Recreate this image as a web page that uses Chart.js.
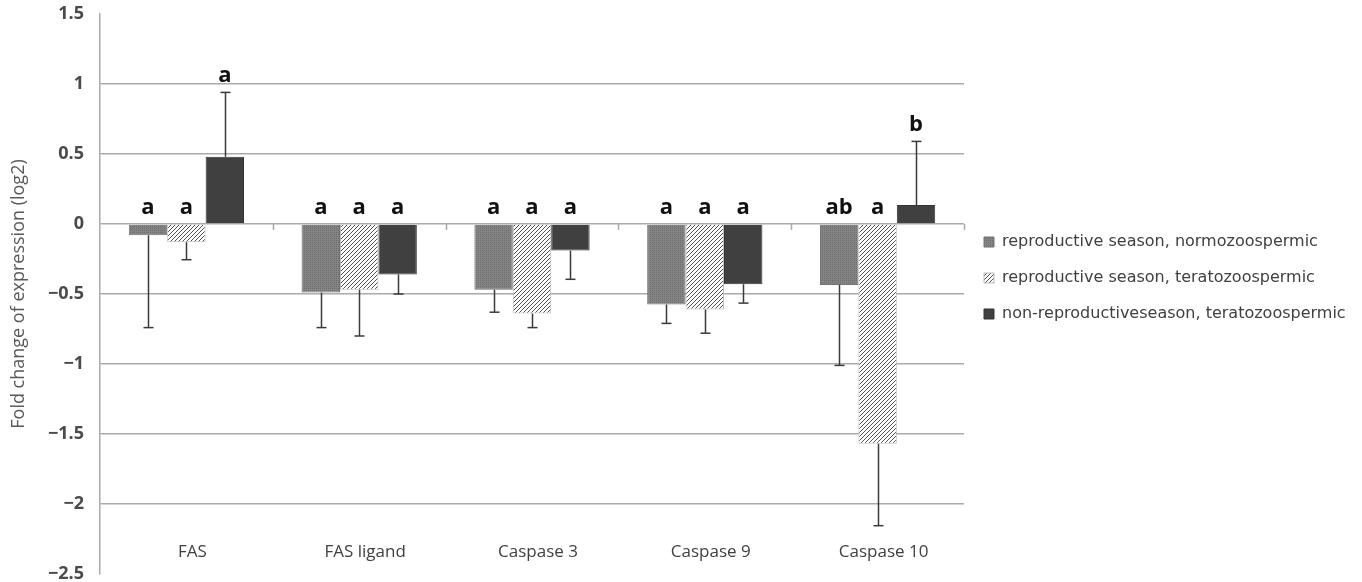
<!DOCTYPE html>
<html><head><meta charset="utf-8">
<script src="https://cdn.jsdelivr.net/npm/chart.js@4"></script>
<style>html,body{margin:0;padding:0;background:#fff;} #wrap{width:1362px;height:582px;}</style>
</head><body><div id="wrap"><canvas id="c" width="1362" height="582"></canvas></div>
<script>
const categories = ['FAS', 'FAS ligand', 'Caspase 3', 'Caspase 9', 'Caspase 10'];
const seriesNames = ['reproductive season, normozoospermic', 'reproductive season, teratozoospermic', 'non-reproductiveseason, teratozoospermic'];
const normoValues = [-0.08, -0.49, -0.47, -0.575, -0.435];
const normoErrors = [0.66, 0.25, 0.16, 0.135, 0.575];
const teratoValues = [-0.13, -0.47, -0.64, -0.61, -1.57];
const teratoErrors = [0.125, 0.33, 0.10, 0.17, 0.585];
const nonReproValues = [0.48, -0.36, -0.19, -0.43, 0.135];
const nonReproErrors = [0.46, 0.14, 0.205, 0.135, 0.455];
const normoLetters = ['a', 'a', 'a', 'a', 'ab'];
const teratoLetters = ['a', 'a', 'a', 'a', 'a'];
const nonReproLetters = ['a', 'a', 'a', 'a', 'b'];
const yTickValues = [-2.5, -2, -1.5, -1, -0.5, 0, 0.5, 1, 1.5];
const yTickLabels = ['\u22122.5', '\u22122', '\u22121.5', '\u22121', '\u22120.5', '0', '0.5', '1', '1.5'];

function dotPattern() {
  const c = document.createElement('canvas'); c.width = 4; c.height = 4;
  const g = c.getContext('2d');
  g.fillStyle = '#848484'; g.fillRect(0, 0, 4, 4);
  g.fillStyle = '#6e6e6e';
  g.fillRect(0, 0, 1, 1); g.fillRect(2, 2, 1, 1); g.fillRect(2, 0, 1, 1); g.fillRect(0, 2, 1, 1);
  return document.createElement('canvas').getContext('2d').createPattern(c, 'repeat');
}
function hatchPattern() {
  const p = 4;
  const c = document.createElement('canvas'); c.width = p; c.height = p;
  const g = c.getContext('2d');
  g.fillStyle = '#ffffff'; g.fillRect(0, 0, p, p);
  g.strokeStyle = '#505050'; g.lineWidth = 1.0;
  g.beginPath();
  g.moveTo(-1, p + 1); g.lineTo(p + 1, -1);
  g.moveTo(-1, 1); g.lineTo(1, -1);
  g.moveTo(p - 1, p + 1); g.lineTo(p + 1, p - 1);
  g.stroke();
  return document.createElement('canvas').getContext('2d').createPattern(c, 'repeat');
}

const errorSets = [normoErrors, teratoErrors, nonReproErrors];
const letterSets = [normoLetters, teratoLetters, nonReproLetters];

const extrasPlugin = {
  id: 'extras',
  beforeUpdate(chart) {
    const lg = chart.legend;
    if (lg && !lg._patched) {
      const origFit = lg.fit;
      lg.fit = function () { origFit.call(this); this.width = 398; };
      const origDraw = lg.draw;
      lg.draw = function () {
        const ctx = this.ctx; ctx.save(); ctx.translate(0, -16);
        origDraw.call(this); ctx.restore();
      };
      lg._patched = true;
    }
  },
  afterDatasetsDraw(chart) {
    const ctx = chart.ctx;
    const ys = chart.scales.y, xs = chart.scales.x;
    const y0 = ys.getPixelForValue(0);
    const step = xs.getPixelForValue(1) - xs.getPixelForValue(0);
    ctx.save();
    ctx.strokeStyle = '#aaaaaa'; ctx.lineWidth = 1.5;
    for (let i = 0; i < categories.length; i++) {
      const xb = Math.round(xs.getPixelForValue(i) + step / 2) + 0.5;
      ctx.beginPath(); ctx.moveTo(xb, y0); ctx.lineTo(xb, y0 + 6); ctx.stroke();
    }
    chart.data.datasets.forEach((ds, di) => {
      const meta = chart.getDatasetMeta(di);
      meta.data.forEach((bar, i) => {
        const v = ds.data[i];
        const e = errorSets[di][i];
        const end = v >= 0 ? v + e : v - e;
        const yv = ys.getPixelForValue(v);
        const ye = ys.getPixelForValue(end);
        const x = Math.round(bar.x) + 0.5;
        ctx.strokeStyle = '#3a3a3a'; ctx.lineWidth = 1.5;
        ctx.beginPath(); ctx.moveTo(x, yv); ctx.lineTo(x, ye); ctx.stroke();
        ctx.beginPath(); ctx.moveTo(x - 5, ye); ctx.lineTo(x + 5, ye); ctx.stroke();
        const top = Math.min(y0, ye);
        ctx.fillStyle = '#111111';
        ctx.font = 'bold 22px "Open Sans", sans-serif';
        ctx.textAlign = 'center'; ctx.textBaseline = 'alphabetic';
        ctx.fillText(letterSets[di][i], bar.x, top - 10);
      });
    });
    ctx.fillStyle = '#404040';
    ctx.font = '17px "Open Sans", sans-serif';
    ctx.textAlign = 'center'; ctx.textBaseline = 'middle';
    const yl = ys.getPixelForValue(-2.5) - 22;
    categories.forEach((c, i) => ctx.fillText(c, xs.getPixelForValue(i) + 6, yl));
    ctx.restore();
  }
};

new Chart(document.getElementById('c'), {
  type: 'bar',
  data: {
    labels: categories,
    datasets: [
      { label: seriesNames[0], data: normoValues, backgroundColor: dotPattern(), borderColor: '#707070', borderWidth: 1 },
      { label: seriesNames[1], data: teratoValues, backgroundColor: hatchPattern(), borderColor: '#bdbdbd', borderWidth: 1 },
      { label: seriesNames[2], data: nonReproValues, backgroundColor: '#404040', borderColor: '#333333', borderWidth: 1 }
    ]
  },
  options: {
    responsive: false, animation: false, devicePixelRatio: 1,
    layout: { padding: { top: 14, bottom: 8, left: 0, right: 0 } },
    datasets: { bar: { categoryPercentage: 0.667, barPercentage: 1.0 } },
    scales: {
      x: { display: false },
      y: {
        min: -2.5, max: 1.5,
        afterFit(s) { s.width = 100; s.paddingTop = 0; s.paddingBottom = 0; },
        afterBuildTicks(s) { s.ticks = yTickValues.map(v => ({ value: v })); },
        ticks: {
          padding: 16, color: '#4a4a4a',
          font: { family: '"Open Sans", sans-serif', size: 18, weight: 'bold' },
          callback: (v) => yTickLabels[yTickValues.indexOf(v)]
        },
        grid: {
          drawTicks: false, lineWidth: 1.5,
          color: (c) => (c.tick && (c.tick.value === 1.5 || c.tick.value === -2.5)) ? 'rgba(0,0,0,0)' : '#aaaaaa'
        },
        border: { display: true, color: '#aaaaaa', width: 1.5 },
        title: {
          display: true, text: 'Fold change of expression (log2)', color: '#595959',
          font: { family: '"Open Sans", sans-serif', size: 18 }, padding: { top: 8, bottom: 0 }
        }
      }
    },
    plugins: {
      legend: {
        position: 'right', align: 'center',
        labels: {
          boxWidth: 10, boxHeight: 10, padding: 20, color: '#404040',
          font: { family: '"DejaVu Sans", sans-serif', size: 16 }
        }
      },
      tooltip: { enabled: false }
    }
  },
  plugins: [extrasPlugin]
});
</script></body></html>
